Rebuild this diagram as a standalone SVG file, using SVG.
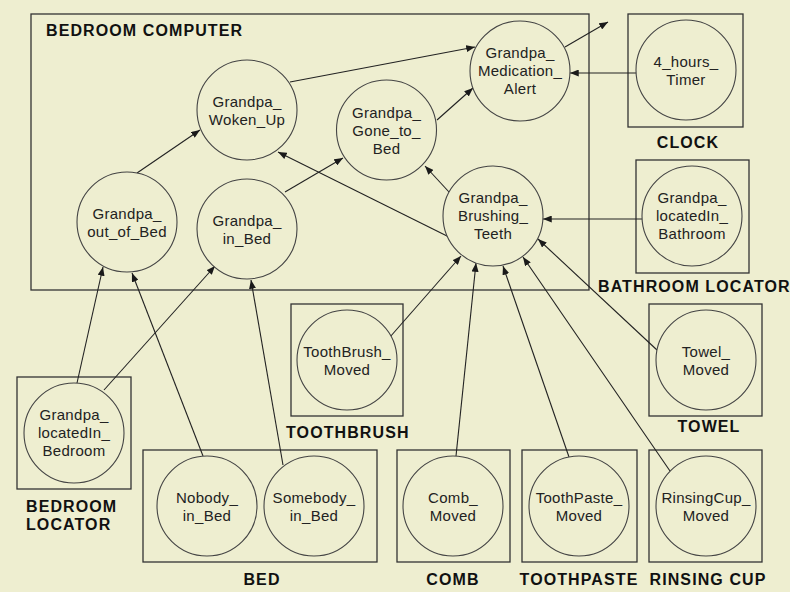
<svg xmlns="http://www.w3.org/2000/svg" width="790" height="592" viewBox="0 0 790 592">
  <defs>
    <marker id="arrow" viewBox="0 0 10 8" refX="10" refY="4" markerWidth="9" markerHeight="7" markerUnits="userSpaceOnUse" orient="auto">
      <path d="M0,0 L10,4 L0,8 Z" fill="#1a1a1a"/>
    </marker>
  </defs>
  <style>
    .box { fill: none; stroke: #333; stroke-width: 1.3; }
    .node { fill: #eeeed0; stroke: #444; stroke-width: 1.1; }
    .txt { font-family: "Liberation Sans", Arial, sans-serif; font-size: 15px; letter-spacing: 0.3px; fill: #222; text-anchor: middle; }
    .lbl { font-family: "Liberation Sans", Arial, sans-serif; font-size: 16px; font-weight: bold; letter-spacing: 1.1px; fill: #111; }
    .mid { text-anchor: middle; }
    .edge { stroke: #222; stroke-width: 1.1; fill: none; marker-end: url(#arrow); }
  </style>

  <rect x="0" y="0" width="790" height="592" fill="#eeeed0"/>

  <!-- containers -->
  <g id="bedroom-computer">
    <rect class="box" x="31" y="14" width="558" height="276"/>
    <text class="lbl" x="46" y="36">BEDROOM COMPUTER</text>
  </g>
  <g id="clock">
    <rect class="box" x="628" y="14" width="115" height="113"/>
    <text class="lbl mid" x="688" y="148">CLOCK</text>
  </g>
  <g id="bathroom-locator">
    <rect class="box" x="636" y="160" width="113" height="113"/>
    <text class="lbl" x="598" y="292">BATHROOM LOCATOR</text>
  </g>
  <g id="toothbrush">
    <rect class="box" x="291" y="304" width="112" height="112"/>
    <text class="lbl" x="286" y="438">TOOTHBRUSH</text>
  </g>
  <g id="towel">
    <rect class="box" x="649" y="304" width="113" height="112"/>
    <text class="lbl mid" x="709" y="432">TOWEL</text>
  </g>
  <g id="bedroom-locator">
    <rect class="box" x="17" y="377" width="114" height="112"/>
    <text class="lbl" x="26" y="512">BEDROOM</text>
    <text class="lbl" x="26" y="530">LOCATOR</text>
  </g>
  <g id="bed">
    <rect class="box" x="143" y="450" width="234" height="112"/>
    <text class="lbl mid" x="262" y="585">BED</text>
  </g>
  <g id="comb">
    <rect class="box" x="397" y="450" width="113" height="112"/>
    <text class="lbl mid" x="453" y="585">COMB</text>
  </g>
  <g id="toothpaste">
    <rect class="box" x="522" y="450" width="115" height="112"/>
    <text class="lbl mid" x="579" y="585">TOOTHPASTE</text>
  </g>
  <g id="rinsing-cup">
    <rect class="box" x="649" y="450" width="113" height="112"/>
    <text class="lbl mid" x="708" y="585">RINSING CUP</text>
  </g>

  <!-- connectors -->
  <g id="connectors">
    <line class="edge" x1="137" y1="173" x2="200" y2="130"/>
    <line class="edge" x1="290" y1="82" x2="475" y2="47"/>
    <line class="edge" x1="437" y1="120" x2="473" y2="88"/>
    <line class="edge" x1="285" y1="192" x2="343" y2="158"/>
    <line class="edge" x1="449" y1="192" x2="425" y2="166"/>
    <line class="edge" x1="449" y1="237" x2="278" y2="152"/>
    <line class="edge" x1="565" y1="47" x2="608" y2="22"/>
    <line class="edge" x1="636" y1="73" x2="570" y2="73"/>
    <line class="edge" x1="642" y1="219" x2="543" y2="219"/>
    <line class="edge" x1="77" y1="383" x2="103" y2="267"/>
    <line class="edge" x1="104" y1="390" x2="215" y2="266"/>
    <line class="edge" x1="203" y1="456" x2="132" y2="273"/>
    <line class="edge" x1="283" y1="465" x2="251" y2="280"/>
    <line class="edge" x1="390" y1="337" x2="461" y2="256"/>
    <line class="edge" x1="456" y1="456" x2="476" y2="263"/>
    <line class="edge" x1="569" y1="457" x2="503" y2="266"/>
    <line class="edge" x1="670" y1="471" x2="523" y2="257"/>
    <line class="edge" x1="657" y1="350" x2="538" y2="239"/>
  </g>

  <!-- nodes -->
  <g id="woken-up">
    <circle class="node" cx="247" cy="110" r="50"/>
    <text class="txt" x="247" y="107">Grandpa_</text>
    <text class="txt" x="247" y="125">Woken_Up</text>
  </g>
  <g id="gone-to-bed">
    <circle class="node" cx="386.5" cy="130" r="50"/>
    <text class="txt" x="386.5" y="118">Grandpa_</text>
    <text class="txt" x="386.5" y="136">Gone_to_</text>
    <text class="txt" x="386.5" y="154">Bed</text>
  </g>
  <g id="medication-alert">
    <circle class="node" cx="520" cy="71" r="50"/>
    <text class="txt" x="520" y="58">Grandpa_</text>
    <text class="txt" x="520" y="76">Medication_</text>
    <text class="txt" x="520" y="94">Alert</text>
  </g>
  <g id="brushing-teeth">
    <circle class="node" cx="493" cy="216" r="50"/>
    <text class="txt" x="493" y="203">Grandpa_</text>
    <text class="txt" x="493" y="221">Brushing_</text>
    <text class="txt" x="493" y="239">Teeth</text>
  </g>
  <g id="out-of-bed">
    <circle class="node" cx="127" cy="222" r="50"/>
    <text class="txt" x="127" y="219">Grandpa_</text>
    <text class="txt" x="127" y="237">out_of_Bed</text>
  </g>
  <g id="in-bed">
    <circle class="node" cx="247" cy="229" r="50"/>
    <text class="txt" x="247" y="226">Grandpa_</text>
    <text class="txt" x="247" y="244">in_Bed</text>
  </g>
  <g id="timer">
    <circle class="node" cx="686" cy="70" r="50"/>
    <text class="txt" x="686" y="67">4_hours_</text>
    <text class="txt" x="686" y="85">Timer</text>
  </g>
  <g id="located-in-bathroom">
    <circle class="node" cx="692" cy="216" r="50"/>
    <text class="txt" x="692" y="203">Grandpa_</text>
    <text class="txt" x="692" y="221">locatedIn_</text>
    <text class="txt" x="692" y="239">Bathroom</text>
  </g>
  <g id="toothbrush-moved">
    <circle class="node" cx="347" cy="360" r="50"/>
    <text class="txt" x="347" y="357">ToothBrush_</text>
    <text class="txt" x="347" y="375">Moved</text>
  </g>
  <g id="towel-moved">
    <circle class="node" cx="706" cy="360" r="50"/>
    <text class="txt" x="706" y="357">Towel_</text>
    <text class="txt" x="706" y="375">Moved</text>
  </g>
  <g id="located-in-bedroom">
    <circle class="node" cx="74" cy="433" r="50"/>
    <text class="txt" x="74" y="420">Grandpa_</text>
    <text class="txt" x="74" y="438">locatedIn_</text>
    <text class="txt" x="74" y="456">Bedroom</text>
  </g>
  <g id="nobody-in-bed">
    <circle class="node" cx="207" cy="506" r="50"/>
    <text class="txt" x="207" y="503">Nobody_</text>
    <text class="txt" x="207" y="521">in_Bed</text>
  </g>
  <g id="somebody-in-bed">
    <circle class="node" cx="314" cy="506" r="50"/>
    <text class="txt" x="314" y="503">Somebody_</text>
    <text class="txt" x="314" y="521">in_Bed</text>
  </g>
  <g id="comb-moved">
    <circle class="node" cx="453" cy="506" r="50"/>
    <text class="txt" x="453" y="503">Comb_</text>
    <text class="txt" x="453" y="521">Moved</text>
  </g>
  <g id="toothpaste-moved">
    <circle class="node" cx="579" cy="506" r="50"/>
    <text class="txt" x="579" y="503">ToothPaste_</text>
    <text class="txt" x="579" y="521">Moved</text>
  </g>
  <g id="rinsingcup-moved">
    <circle class="node" cx="706" cy="506" r="50"/>
    <text class="txt" x="706" y="503">RinsingCup_</text>
    <text class="txt" x="706" y="521">Moved</text>
  </g>
</svg>
